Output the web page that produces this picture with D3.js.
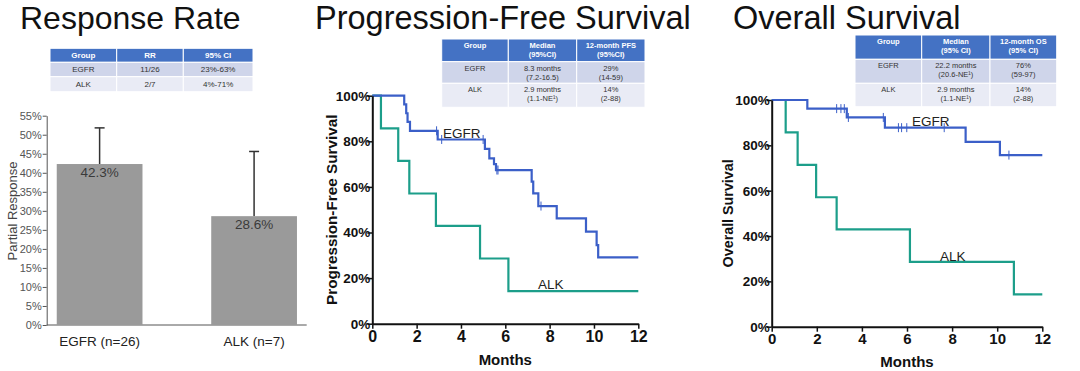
<!DOCTYPE html>
<html>
<head>
<meta charset="utf-8">
<script src="https://cdn.jsdelivr.net/npm/d3@7"></script>
<style>
  html, body { margin: 0; padding: 0; background: #fff; }
  svg { display: block; font-family: "Liberation Sans", Arial, sans-serif; }
</style>
</head>
<body>
<div id="chart"></div>
<script>
// ---- data ----
const rrGroups = ['EGFR (n=26)', 'ALK (n=7)'];
const rrValues = [42.3, 28.6];
const rrUpper = [51.8, 45.6];
const rrTicks = [0, 5, 10, 15, 20, 25, 30, 35, 40, 45, 50, 55];

const rrTableHeader = [['Group'], ['RR'], ['95% CI']];
const rrTableRows = [
  [['EGFR'], ['11/26'], ['23%-63%']],
  [['ALK'], ['2/7'], ['4%-71%']]
];
const pfsTableHeader = [['Group'], ['Median', '(95%CI)'], ['12-month PFS', '(95%CI)']];
const pfsTableRows = [
  [['EGFR'], ['8.3 months', '(7.2-16.5)'], ['29%', '(14-59)']],
  [['ALK'], ['2.9 months', '(1.1-NE\u00b9)'], ['14%', '(2-88)']]
];
const osTableHeader = [['Group'], ['Median', '(95% CI)'], ['12-month OS', '(95% CI)']];
const osTableRows = [
  [['EGFR'], ['22.2 months', '(20.6-NE\u00b9)'], ['76%', '(59-97)']],
  [['ALK'], ['2.9 months', '(1.1-NE\u00b9)'], ['14%', '(2-88)']]
];

const monthTicks = [0, 2, 4, 6, 8, 10, 12];
const survTicks = [0, 20, 40, 60, 80, 100];

// PFS step points (month, %)
const pfsEgfrTimes = [0, 1.44, 1.53, 1.59, 1.70, 2.95, 5.08, 5.28, 5.49, 5.58, 7.19, 7.26, 7.49, 8.32, 9.64, 10.12, 10.19, 12];
const pfsEgfrSurv = [100, 96.2, 92.3, 88.5, 84.6, 80.8, 76.7, 72.5, 70.0, 67.4, 62.3, 57.2, 51.6, 46.2, 40.4, 34.5, 29.1, 29.1];
const pfsEgfrCensor = [2.90, 3.13, 5.0, 5.62, 5.67, 7.61];
const pfsAlkTimes = [0, 0.39, 1.17, 1.67, 2.87, 4.86, 6.14, 12];
const pfsAlkSurv = [100, 85.7, 71.4, 57.1, 42.9, 28.6, 14.3, 14.3];

// OS step points (month, %)
const osEgfrTimes = [0, 1.58, 3.33, 5.02, 8.6, 10.12, 12];
const osEgfrSurv = [100, 96.2, 92.3, 87.8, 81.5, 75.7, 75.7];
const osEgfrCensor = [2.88, 3.07, 3.22, 3.40, 4.95, 5.62, 5.76, 5.99, 7.65, 10.52];
const osAlkTimes = [0, 0.62, 1.15, 1.97, 2.88, 6.13, 10.74, 12];
const osAlkSurv = [100, 85.7, 71.4, 57.1, 42.9, 28.6, 14.3, 14.3];

const egfrColor = '#3b5fc8';
const alkColor = '#1c9e8a';

const svg = d3.select('#chart').append('svg')
  .attr('width', 1080)
  .attr('height', 371);

// ---- titles ----
const titles = [
  {text: 'Response Rate', x: 20, size: 32},
  {text: 'Progression-Free Survival', x: 315, size: 32.5},
  {text: 'Overall Survival', x: 733, size: 32.5}
];
svg.selectAll('text.title')
  .data(titles)
  .enter().append('text')
    .attr('class', 'title')
    .attr('x', d => d.x)
    .attr('y', 29)
    .attr('font-size', d => d.size)
    .attr('fill', '#111')
    .text(d => d.text);

// ---- Response rate bar chart ----
const bx = d3.scaleBand()
  .domain(rrGroups)
  .range([46.7, 307])
  .paddingInner(0.445)
  .paddingOuter(0.065);
const by = d3.scaleLinear().domain([0, 55]).range([325, 115.7]);

const barG = svg.append('g').attr('class', 'bars');

// Y Axis
barG.append('g')
  .attr('transform', 'translate(46.7,0)')
  .call(d3.axisLeft(by).tickValues(rrTicks).tickFormat(d => d + '%').tickSize(4).tickSizeOuter(0).tickPadding(1))
  .call(g => g.selectAll('path, line').attr('stroke', '#555'))
  .call(g => g.selectAll('text').attr('font-size', 11).attr('fill', '#555').attr('font-family', null));

// X Axis
barG.append('g')
  .attr('transform', 'translate(0,325)')
  .call(d3.axisBottom(bx).tickSize(0).tickPadding(11.5))
  .call(g => g.select('path').attr('stroke', '#555').attr('d', 'M46.7,0H306.7'))
  .call(g => g.selectAll('text').attr('font-size', 13.5).attr('fill', '#222').attr('font-family', null));

barG.append('text')
  .attr('transform', 'translate(17,211) rotate(-90)')
  .attr('text-anchor', 'middle')
  .attr('font-size', 13)
  .attr('fill', '#444')
  .text('Partial Response');

const rrData = rrGroups.map((g, i) => ({group: g, value: rrValues[i], upper: rrUpper[i]}));

// error bars (behind bars)
barG.selectAll('line.err')
  .data(rrData)
  .enter().append('line')
    .attr('class', 'err')
    .attr('x1', d => bx(d.group) + bx.bandwidth() / 2)
    .attr('x2', d => bx(d.group) + bx.bandwidth() / 2)
    .attr('y1', d => by(d.value))
    .attr('y2', d => by(d.upper))
    .attr('stroke', '#333')
    .attr('stroke-width', 1.5);
barG.selectAll('line.cap')
  .data(rrData)
  .enter().append('line')
    .attr('class', 'cap')
    .attr('x1', d => bx(d.group) + bx.bandwidth() / 2 - 5)
    .attr('x2', d => bx(d.group) + bx.bandwidth() / 2 + 5)
    .attr('y1', d => by(d.upper))
    .attr('y2', d => by(d.upper))
    .attr('stroke', '#333')
    .attr('stroke-width', 1.5);

barG.selectAll('rect.bar')
  .data(rrData)
  .enter().append('rect')
    .attr('class', 'bar')
    .attr('x', d => bx(d.group))
    .attr('y', d => by(d.value))
    .attr('width', bx.bandwidth())
    .attr('height', d => by(0) - by(d.value))
    .attr('fill', '#9a9a9a');

barG.selectAll('text.val')
  .data(rrData)
  .enter().append('text')
    .attr('class', 'val')
    .attr('x', d => bx(d.group) + bx.bandwidth() / 2)
    .attr('y', d => by(d.value) + 13)
    .attr('text-anchor', 'middle')
    .attr('font-size', 13.5)
    .attr('fill', '#3a3a3a')
    .text(d => d.value.toFixed(1) + '%');

// ---- KM plots ----
function drawKM(opts) {
  const x = d3.scaleLinear().domain([0, 12]).range(opts.xRange);
  const y = d3.scaleLinear().domain([0, 100]).range(opts.yRange);
  const g = svg.append('g').attr('class', 'km');

  const line = d3.line()
    .curve(d3.curveStepAfter)
    .x(d => x(d[0]))
    .y(d => y(d[1]));

  opts.series.forEach(s => {
    const pts = s.times.map((t, i) => [t, s.surv[i]]);
    g.append('path')
      .attr('d', line(pts))
      .attr('fill', 'none')
      .attr('stroke', s.color)
      .attr('stroke-width', 2.2);

    // censor marks
    const survAt = t => {
      let v = s.surv[0];
      s.times.forEach((tt, i) => { if (tt <= t) v = s.surv[i]; });
      return v;
    };
    g.selectAll(null)
      .data(s.censor || [])
      .enter().append('line')
        .attr('x1', d => x(d))
        .attr('x2', d => x(d))
        .attr('y1', d => y(survAt(d)) - 4.5)
        .attr('y2', d => y(survAt(d)) + 4.5)
        .attr('stroke', s.color)
        .attr('stroke-width', 1);

    g.append('text')
      .attr('x', s.label.x)
      .attr('y', s.label.y)
      .attr('font-size', 13.5)
      .attr('fill', '#222')
      .text(s.name);
  });

  // Y Axis
  g.append('g')
    .attr('transform', 'translate(' + opts.xRange[0] + ',0)')
    .call(d3.axisLeft(y).tickValues(survTicks).tickFormat(d => d + '%').tickSize(5).tickSizeOuter(0).tickPadding(-3))
    .call(a => a.select('path').attr('stroke', '#111').attr('stroke-width', 2))
    .call(a => a.selectAll('line').attr('stroke', '#111').attr('stroke-width', 1.5))
    .call(a => a.selectAll('text').attr('font-size', 13.5).attr('font-weight', 'bold').attr('fill', '#111').attr('font-family', null));

  // X Axis
  g.append('g')
    .attr('transform', 'translate(0,' + opts.yRange[0] + ')')
    .call(d3.axisBottom(x).tickValues(monthTicks).tickSize(5).tickSizeOuter(0).tickPadding(2))
    .call(a => a.select('path').attr('stroke', '#111').attr('stroke-width', 2))
    .call(a => a.selectAll('line').attr('stroke', '#111').attr('stroke-width', 1.5))
    .call(a => a.selectAll('text').attr('font-size', opts.xTickSize).attr('font-weight', 'bold').attr('fill', '#111').attr('font-family', null));

  g.append('text')
    .attr('x', (opts.xRange[0] + opts.xRange[1]) / 2)
    .attr('y', opts.monthsY)
    .attr('text-anchor', 'middle')
    .attr('font-size', 15)
    .attr('font-weight', 'bold')
    .attr('fill', '#111')
    .text('Months');

  g.append('text')
    .attr('transform', 'translate(' + opts.yLabelX + ',' + (opts.yRange[0] + opts.yRange[1]) / 2 + ') rotate(-90)')
    .attr('text-anchor', 'middle')
    .attr('font-size', opts.yLabelSize)
    .attr('font-weight', 'bold')
    .attr('fill', '#111')
    .text(opts.yLabel);
}

drawKM({
  xRange: [372.3, 638.3],
  yRange: [323.7, 95.7],
  xTickSize: 16,
  monthsY: 365,
  yLabelX: 337,
  yLabelSize: 15.3,
  yLabel: 'Progression-Free Survival',
  series: [
    {name: 'ALK', times: pfsAlkTimes, surv: pfsAlkSurv, color: alkColor, label: {x: 538, y: 289}},
    {name: 'EGFR', times: pfsEgfrTimes, surv: pfsEgfrSurv, censor: pfsEgfrCensor, color: egfrColor, label: {x: 443, y: 138}}
  ]
});

drawKM({
  xRange: [771.7, 1042.3],
  yRange: [326.7, 100],
  xTickSize: 15,
  monthsY: 367,
  yLabelX: 733,
  yLabelSize: 14.3,
  yLabel: 'Overall Survival',
  series: [
    {name: 'ALK', times: osAlkTimes, surv: osAlkSurv, color: alkColor, label: {x: 940, y: 261}},
    {name: 'EGFR', times: osEgfrTimes, surv: osEgfrSurv, censor: osEgfrCensor, color: egfrColor, label: {x: 912, y: 126}}
  ]
});

// ---- tables ----
function drawTable(cols, rowsY, header, rows, centered) {
  const g = svg.append('g').attr('class', 'table');
  const all = [header].concat(rows);
  const fills = ['#4472c4', '#cfd5ea', '#e9ebf5'];
  all.forEach((row, r) => {
    row.forEach((cell, c) => {
      const x0 = cols[c], x1 = cols[c + 1];
      const y0 = rowsY[r], y1 = rowsY[r + 1];
      g.append('rect')
        .attr('x', x0).attr('y', y0)
        .attr('width', x1 - x0).attr('height', y1 - y0)
        .attr('fill', fills[r])
        .attr('stroke', '#fff')
        .attr('stroke-width', 1);
      cell.forEach((txt, k) => {
        const cy = centered ? (y0 + y1) / 2 : y0 + 6.5 + k * 9;
        g.append('text')
          .attr('x', (x0 + x1) / 2)
          .attr('y', cy)
          .attr('dy', '0.35em')
          .attr('text-anchor', 'middle')
          .attr('font-size', centered ? 8 : 7.5)
          .attr('font-weight', r === 0 ? 'bold' : 'normal')
          .attr('fill', r === 0 ? '#fff' : '#333')
          .text(txt);
      });
    });
  });
}

drawTable([50, 116.7, 183.3, 253], [48.3, 62.3, 76.7, 91.7], rrTableHeader, rrTableRows, true);
drawTable([441.7, 508.3, 576.7, 645], [39, 61.7, 83.3, 107.3], pfsTableHeader, pfsTableRows, false);
drawTable([855, 921.7, 990, 1056.7], [35, 59.3, 83.3, 106.7], osTableHeader, osTableRows, false);
</script>
</body>
</html>
